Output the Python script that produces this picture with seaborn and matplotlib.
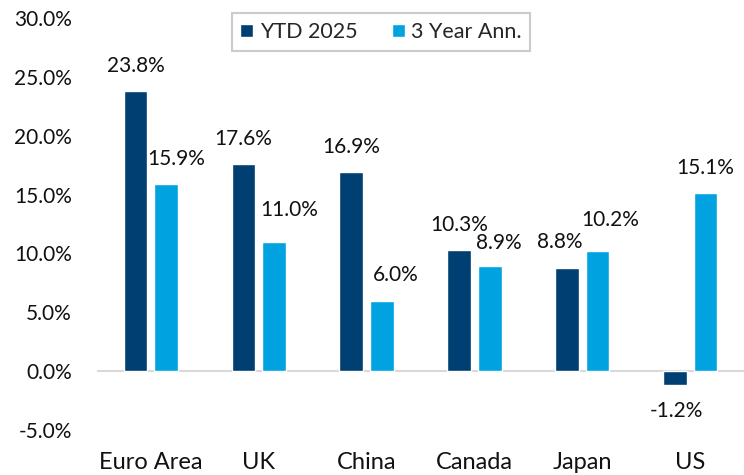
import matplotlib
matplotlib.use("Agg")
import matplotlib.pyplot as plt
import seaborn as sns
import pandas as pd
from matplotlib.ticker import FuncFormatter, MultipleLocator

categories = ["Euro Area", "UK", "China", "Canada", "Japan", "US"]
ytd_2025 = [23.8, 17.6, 16.9, 10.3, 8.8, -1.2]
three_year = [15.9, 11.0, 6.0, 8.9, 10.2, 15.1]
series_names = ["YTD 2025", "3 Year Ann."]
colors = ["#003f72", "#00a3e0"]

# label nudges (pixels) to mimic the original label placement
label_dx = [[0, 0, 0, 0, -7, 2], [10, 15, 14, 9, 13, 0]]
label_dy = [[0, 0, 0, 0, 0, 0], [0, 6, 0, -2, 6, 0]]

df = pd.DataFrame({
    "Region": categories * 2,
    "Series": [series_names[0]] * len(categories) + [series_names[1]] * len(categories),
    "Value": ytd_2025 + three_year,
})

sns.set_theme(style="white")
plt.rcParams["font.family"] = ["Lato", "DejaVu Sans"]

fig = plt.figure(figsize=(7.44, 4.75), dpi=100)
ax = fig.add_axes([97 / 744, 45 / 475, 647 / 744, 412 / 475])

sns.barplot(data=df, x="Region", y="Value", hue="Series", palette=colors,
            width=0.57, gap=0.23, ax=ax, saturation=1, legend=True)

pad = 11
px = 0.72
for si, cont in enumerate(ax.containers):
    anns = ax.bar_label(cont, labels=[f"{v:.1f}%" for v in cont.datavalues],
                        padding=pad, fontsize=15, color="#111111")
    for i, (ann, v) in enumerate(zip(anns, cont.datavalues)):
        sign = 1 if v >= 0 else -1
        ann.xyann = (label_dx[si][i] * px, sign * pad + label_dy[si][i] * px)

ax.axhline(0, color="#d9d9d9", lw=1.5, zorder=0)
ax.set_ylim(-5, 30)
ax.set_xlim(-0.5, 5.5)
ax.yaxis.set_major_locator(MultipleLocator(5))
ax.yaxis.set_major_formatter(FuncFormatter(lambda v, p: f"{v:.1f}%"))
ax.set_xlabel("")
ax.set_ylabel("")
for s in ax.spines.values():
    s.set_visible(False)
ax.tick_params(axis="y", length=0, pad=18, labelsize=15, labelcolor="#111111")
ax.tick_params(axis="x", length=0, pad=16, labelsize=17, labelcolor="#111111")

leg = ax.legend(loc="upper center", bbox_to_anchor=(0.439, 1.011), ncol=2,
                frameon=True, fancybox=False, edgecolor="#bfbfbf", fontsize=15.5,
                handlelength=0.6, handleheight=0.6, handletextpad=0.3,
                columnspacing=1.6, borderpad=0.4, borderaxespad=0)
leg.get_frame().set_linewidth(1.5)

fig.savefig("out.png", dpi=100)
